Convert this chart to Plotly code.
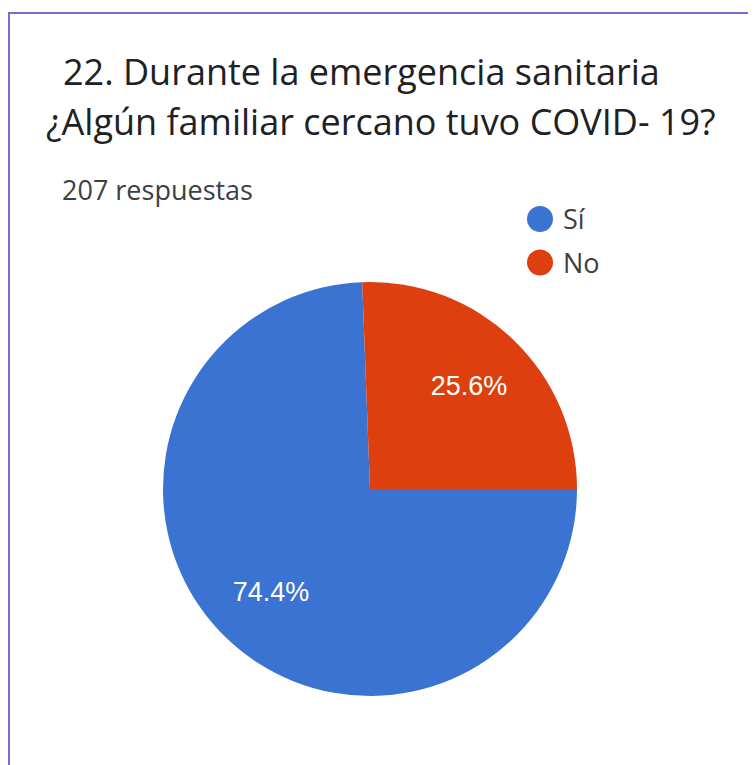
import plotly.graph_objects as go

labels = ["Sí", "No"]
values = [74.4, 25.6]
colors = ["#3b73d3", "#de3f0f"]

title_lines = ["22. Durante la emergencia sanitaria", "¿Algún familiar cercano tuvo COVID- 19?"]
subtitle = "207 respuestas"

# page body has an 8px margin, so the figure is 8px smaller each way
OFF = 8
W, H = 756 - OFF, 765 - OFF

def px(x):
    return (x - OFF) / W

def py(y):
    return 1 - (y - OFF) / H

cx, cy, R = 370, 489, 207
HOLE = 0.38  # pushes inside labels outward like the Google Forms chart

fig = go.Figure()
fig.add_trace(go.Pie(
    labels=labels,
    values=values,
    sort=False,
    direction="clockwise",
    rotation=90,
    hole=HOLE,
    marker=dict(colors=colors, line=dict(width=0)),
    texttemplate="%{percent:.1%}",
    textposition="inside",
    insidetextorientation="horizontal",
    textfont=dict(family="Liberation Sans, Arial", size=27, color="white"),
    domain=dict(x=[px(cx - R), px(cx + R)], y=[py(cy + R), py(cy - R)]),
    showlegend=False,
    hoverinfo="label+percent",
))
# fill the hole with the same slices
r_in = R * HOLE + 1.5
fig.add_trace(go.Pie(
    labels=labels,
    values=values,
    sort=False,
    direction="clockwise",
    rotation=90,
    marker=dict(colors=colors, line=dict(width=0)),
    textinfo="none",
    domain=dict(x=[px(cx - r_in), px(cx + r_in)], y=[py(cy + r_in), py(cy - r_in)]),
    showlegend=False,
    hoverinfo="skip",
))

annotations = [
    dict(text=title_lines[0], x=px(61), y=py(71), xanchor="left", yanchor="middle",
         font=dict(family="Open Sans", size=36, color="#202124")),
    dict(text=title_lines[1], x=px(44), y=py(121), xanchor="left", yanchor="middle",
         font=dict(family="Open Sans", size=36, color="#202124")),
    dict(text=subtitle, x=px(60), y=py(189), xanchor="left", yanchor="middle",
         font=dict(family="Open Sans", size=27, color="#3c4043")),
]

shapes = [
    # purple frame (left + top)
    dict(type="line", xref="paper", yref="paper", x0=px(9), x1=px(9), y0=py(13), y1=0,
         line=dict(color="#8466d6", width=2)),
    dict(type="line", xref="paper", yref="paper", x0=px(8), x1=1, y0=py(13), y1=py(13),
         line=dict(color="#8466d6", width=2)),
]

# custom legend with circle markers
for i, (lab, col) in enumerate(zip(labels, colors)):
    yc = py(219 + 43.5 * i)
    shapes.append(dict(type="circle", xref="paper", yref="paper",
                       xsizemode="pixel", ysizemode="pixel",
                       xanchor=px(540), yanchor=yc, x0=-13, x1=13, y0=-13, y1=13,
                       fillcolor=col, line=dict(width=0)))
    annotations.append(dict(text=lab, x=px(561), y=yc, xanchor="left", yanchor="middle",
                            font=dict(family="Open Sans", size=27, color="#3c4043")))

for a in annotations:
    a.update(xref="paper", yref="paper", showarrow=False)

fig.update_layout(
    width=W,
    height=H,
    margin=dict(l=0, r=0, t=0, b=0),
    paper_bgcolor="white",
    plot_bgcolor="white",
    annotations=annotations,
    shapes=shapes,
)

fig.write_html("out.html")
